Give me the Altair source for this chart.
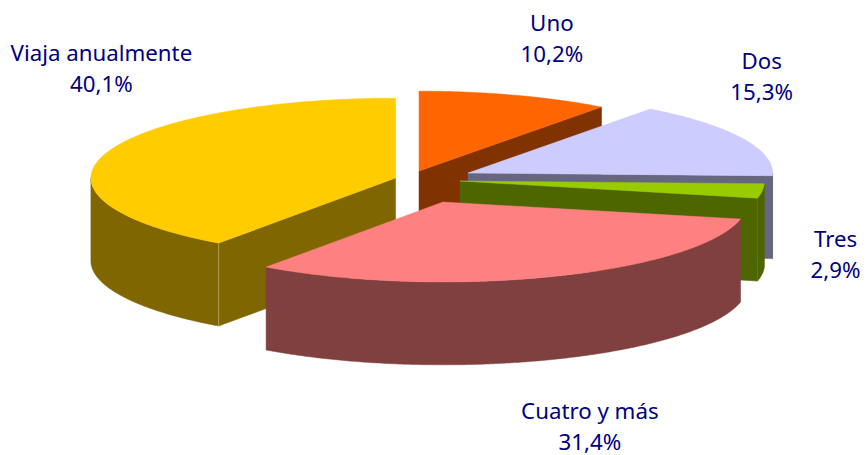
import math
import altair as alt

# Chart values
categories = ["Uno", "Dos", "Tres", "Cuatro y más", "Viaja anualmente"]
shares = [10.2, 15.3, 2.9, 31.4, 40.1]
share_labels = ["10,2%", "15,3%", "2,9%", "31,4%", "40,1%"]
top_colors = ["#FF6600", "#CCCCFF", "#99CC00", "#FF8080", "#FFCC00"]
side_colors = ["#803300", "#666680", "#4D6600", "#804040", "#806600"]
crease_colors = ["#803300", "#666680", "#6B8020", "#804040", "#D8CC99"]

# Layout of the exploded 3-D pie (page pixels minus the offset below)
RX, RY, DEPTH = 305, 80, 83
OX, OY = 6.5, 8
apexes = [(418, 171), (467, 173), (459, 181), (442, 202), (394.5, 178)]
label_centers = [(551, 39.5), (761, 77), (835, 256), (589, 428), (100, 69)]
draw_order = [0, 1, 2, 4, 3]
LINE_GAP = 31


def pt(apex, deg, dy=0):
    a = math.radians(deg)
    return [apex[0] + RX * math.sin(a) - OX, apex[1] - RY * math.cos(a) + dy - OY]


def arc(apex, a0, a1, dy=0):
    n = max(2, int(abs(a1 - a0) * 2))
    return [pt(apex, a0 + (a1 - a0) * i / n, dy) for i in range(n + 1)]


def feature(coords, color):
    ring = coords + [coords[0]]
    return {"type": "Feature", "properties": {"fill": color, "stroke": color},
            "geometry": {"type": "Polygon", "coordinates": [ring]}}


def edge(coords, color):
    return {"type": "Feature", "properties": {"fill": "transparent", "stroke": color},
            "geometry": {"type": "LineString", "coordinates": coords}}


starts = []
acc = 0.0
for s in shares:
    starts.append(acc)
    acc += s
scale = 360.0 / acc

features = []
for i in draw_order:
    a0, a1 = starts[i] * scale, (starts[i] + shares[i]) * scale
    apex = apexes[i]
    center = [apex[0] - OX, apex[1] - OY]
    low = [center[0], center[1] + DEPTH]
    side = side_colors[i]
    # outer wall, front half only
    w0, w1 = max(a0, 90), min(a1, 270)
    if w1 > w0:
        features.append(feature(arc(apex, w0, w1) + arc(apex, w1, w0, DEPTH), side))
    # cut faces turned towards the viewer
    if math.sin(math.radians(a0)) < -1e-6:
        features.append(feature([center, pt(apex, a0), pt(apex, a0, DEPTH), low], side))
        features.append(edge([pt(apex, a0), pt(apex, a0, DEPTH)], crease_colors[i]))
    if math.sin(math.radians(a1)) > 1e-6:
        features.append(feature([center, pt(apex, a1), pt(apex, a1, DEPTH), low], side))
        features.append(edge([pt(apex, a1), pt(apex, a1, DEPTH)], crease_colors[i]))
    # top face
    features.append(feature([center] + arc(apex, a0, a1), top_colors[i]))

label_rows = []
for name, pct, (cx, cy) in zip(categories, share_labels, label_centers):
    label_rows.append({"t": name, "lon": cx - OX, "lat": cy - OY - LINE_GAP / 2})
    label_rows.append({"t": pct, "lon": cx - OX, "lat": cy - OY + LINE_GAP / 2})

shapes = (
    alt.Chart(alt.Data(values=features))
    .mark_geoshape(strokeWidth=0.5)
    .encode(
        fill=alt.Fill("properties.fill:N", scale=None),
        stroke=alt.Stroke("properties.stroke:N", scale=None),
    )
)

labels = (
    alt.Chart(alt.Data(values=label_rows))
    .mark_text(font="Noto Sans", fontSize=22.3, color="#000080", align="center", baseline="middle")
    .encode(longitude="lon:Q", latitude="lat:Q", text="t:N")
)

chart = (
    alt.layer(shapes, labels)
    .project(type="identity", scale=1, translate=[0, 0])
    .properties(width=853, height=447, padding=0)
    .configure_view(stroke=None)
)

chart.save("out.html", embed_options={"renderer": "svg", "actions": False})
